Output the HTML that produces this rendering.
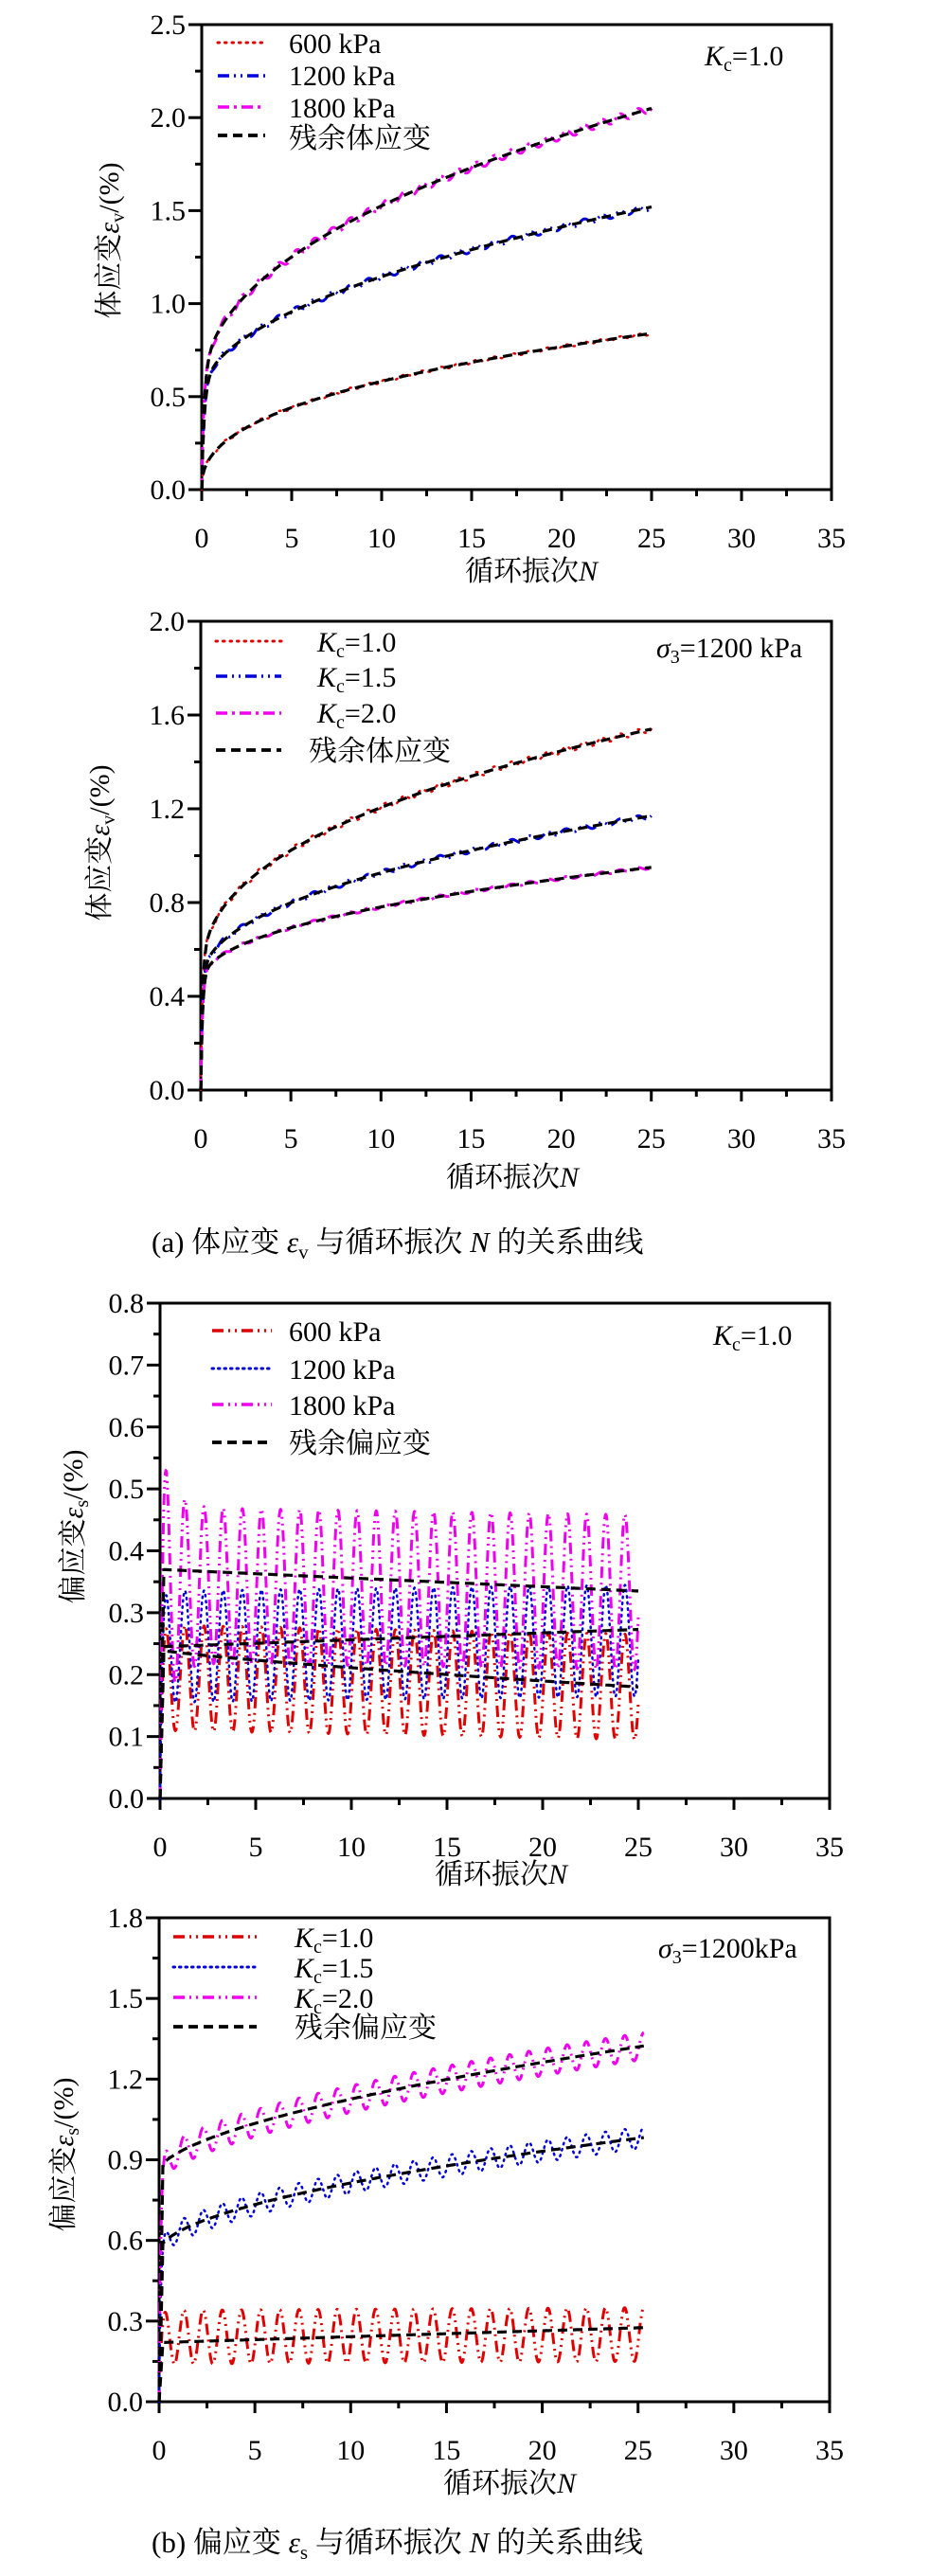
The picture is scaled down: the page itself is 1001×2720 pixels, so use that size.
<!DOCTYPE html>
<html><head><meta charset="utf-8">
<style>
html,body{margin:0;padding:0;background:#fff;}
svg{display:block;}
text{font-family:"Liberation Serif","Noto Serif CJK SC","Noto Sans CJK SC",serif;fill:#000;}
</style></head>
<body>
<svg id="s" width="1001" height="2720" viewBox="0 0 1001 2720" xmlns="http://www.w3.org/2000/svg">
<rect width="1001" height="2720" fill="#fff"/>
<g id="g"></g>
<!-- chart 1 texts -->
<text x="305" y="56" font-size="30">600 kPa</text>
<text x="305" y="90" font-size="30">1200 kPa</text>
<text x="305" y="124" font-size="30">1800 kPa</text>
<text x="305" y="156" font-size="30">残余体应变</text>
<text x="744" y="69" font-size="30"><tspan font-style="italic">K</tspan><tspan font-size="20" dy="6">c</tspan><tspan dy="-6">=1.0</tspan></text>
<text x="561" y="613" font-size="30" text-anchor="middle">循环振次<tspan font-style="italic">N</tspan></text>
<text transform="translate(125,254) rotate(-90)" font-size="30" text-anchor="middle">体应变<tspan font-style="italic">ε</tspan><tspan font-size="20" dy="6">v</tspan><tspan dy="-6">/(%)</tspan></text>
<!-- chart 2 texts -->
<text x="335" y="688" font-size="30"><tspan font-style="italic">K</tspan><tspan font-size="20" dy="6">c</tspan><tspan dy="-6">=1.0</tspan></text>
<text x="335" y="725" font-size="30"><tspan font-style="italic">K</tspan><tspan font-size="20" dy="6">c</tspan><tspan dy="-6">=1.5</tspan></text>
<text x="335" y="763" font-size="30"><tspan font-style="italic">K</tspan><tspan font-size="20" dy="6">c</tspan><tspan dy="-6">=2.0</tspan></text>
<text x="326" y="803" font-size="30">残余体应变</text>
<text x="693" y="694" font-size="30"><tspan font-style="italic">σ</tspan><tspan font-size="20" dy="6">3</tspan><tspan dy="-6">=1200 kPa</tspan></text>
<text x="541" y="1253" font-size="30" text-anchor="middle">循环振次<tspan font-style="italic">N</tspan></text>
<text transform="translate(115,890) rotate(-90)" font-size="30" text-anchor="middle">体应变<tspan font-style="italic">ε</tspan><tspan font-size="20" dy="6">v</tspan><tspan dy="-6">/(%)</tspan></text>
<text x="160" y="1322" font-size="31">(a)  体应变 <tspan font-style="italic">ε</tspan><tspan font-size="21" dy="7">v</tspan><tspan dy="-7"> 与循环振次 </tspan><tspan font-style="italic">N</tspan> 的关系曲线</text>
<!-- chart 3 texts -->
<text x="305" y="1416" font-size="30">600 kPa</text>
<text x="305" y="1456" font-size="30">1200 kPa</text>
<text x="305" y="1494" font-size="30">1800 kPa</text>
<text x="305" y="1534" font-size="30">残余偏应变</text>
<text x="753" y="1420" font-size="30"><tspan font-style="italic">K</tspan><tspan font-size="20" dy="6">c</tspan><tspan dy="-6">=1.0</tspan></text>
<text x="529" y="1989" font-size="30" text-anchor="middle">循环振次<tspan font-style="italic">N</tspan></text>
<text transform="translate(87,1612) rotate(-90)" font-size="30" text-anchor="middle">偏应变<tspan font-style="italic">ε</tspan><tspan font-size="20" dy="6">s</tspan><tspan dy="-6">/(%)</tspan></text>
<!-- chart 4 texts -->
<text x="311" y="2056" font-size="30"><tspan font-style="italic">K</tspan><tspan font-size="20" dy="6">c</tspan><tspan dy="-6">=1.0</tspan></text>
<text x="311" y="2088" font-size="30"><tspan font-style="italic">K</tspan><tspan font-size="20" dy="6">c</tspan><tspan dy="-6">=1.5</tspan></text>
<text x="311" y="2120" font-size="30"><tspan font-style="italic">K</tspan><tspan font-size="20" dy="6">c</tspan><tspan dy="-6">=2.0</tspan></text>
<text x="311" y="2151" font-size="30">残余偏应变</text>
<text x="695" y="2067" font-size="30"><tspan font-style="italic">σ</tspan><tspan font-size="20" dy="6">3</tspan><tspan dy="-6">=1200kPa</tspan></text>
<text x="538" y="2632" font-size="30" text-anchor="middle">循环振次<tspan font-style="italic">N</tspan></text>
<text transform="translate(77,2275) rotate(-90)" font-size="30" text-anchor="middle">偏应变<tspan font-style="italic">ε</tspan><tspan font-size="20" dy="6">s</tspan><tspan dy="-6">/(%)</tspan></text>
<text x="160" y="2695" font-size="31">(b)  偏应变 <tspan font-style="italic">ε</tspan><tspan font-size="21" dy="7">s</tspan><tspan dy="-7"> 与循环振次 </tspan><tspan font-style="italic">N</tspan> 的关系曲线</text>
</svg>
<script>
var NS="http://www.w3.org/2000/svg",G=document.getElementById('g');
function el(t,a,txt){var e=document.createElementNS(NS,t);for(var k in a)e.setAttribute(k,a[k]);if(txt!=null)e.textContent=txt;G.appendChild(e);return e;}
var ST={dot:{d:"1.5 6",w:2.5,cap:"round"},dd:{d:"12 5 2 5 2 5",w:3,cap:"butt"},da:{d:"12 5 3 5",w:3,cap:"butt"},dash:{d:"10 6",w:3.2,cap:"butt"},ddot:{d:"1.5 5",w:2.5,cap:"round"}};
var COL={r:"#e00000",b:"#0000dd",m:"#ee00ee",k:"#000"};
function chart(c){
  var X=function(n){return c.x0+(c.x1-c.x0)*n/35;},Y=function(v){return c.yb-(c.yb-c.yt)*v/c.ymax;};
  c.X=X;c.Y=Y;
  el('rect',{x:c.x0,y:c.yt,width:c.x1-c.x0,height:c.yb-c.yt,fill:'none',stroke:'#000','stroke-width':3});
  for(var n=0;n<=35.01;n+=2.5){var maj=Math.abs(n/5-Math.round(n/5))<1e-6;
    el('line',{x1:X(n),x2:X(n),y1:c.yb,y2:c.yb+(maj?12:7),stroke:'#000','stroke-width':3});
    if(maj)el('text',{x:X(n),y:c.yb+61,'font-size':30,'text-anchor':'middle'},String(Math.round(n)));}
  var ns=Math.round(c.ymax/c.minor);
  for(var i=0;i<=ns;i++){var v=i*c.minor,maj=(i%2==0);
    el('line',{x1:c.x0-(maj?14:7),x2:c.x0,y1:Y(v),y2:Y(v),stroke:'#000','stroke-width':3});
    if(maj)el('text',{x:c.x0-17,y:Y(v)+10,'font-size':30,'text-anchor':'end'},v.toFixed(1));}
  return c;}
function series(c,f,col,st,n0,n1,step){var d="",s=ST[st];
  for(var n=n0;n<=n1+1e-9;n+=step){var v=f(n);d+=(d?"L":"M")+c.X(n).toFixed(1)+","+c.Y(v).toFixed(1);}
  el('path',{d:d,fill:'none',stroke:COL[col],'stroke-width':s.w,'stroke-dasharray':s.d,'stroke-linecap':s.cap,'stroke-linejoin':'round'});}
function leg(x1,x2,y,col,st){var s=ST[st];el('line',{x1:x1,x2:x2,y1:y,y2:y,stroke:COL[col],'stroke-width':s.w+0.5,'stroke-dasharray':s.d,'stroke-linecap':s.cap});}
var P=Math.PI*2;
// Chart 1
var c1=chart({x0:213,x1:878,yb:517,yt:26,ymax:2.5,minor:0.25});
var f600=function(n){return 0.84*Math.pow(n/25,0.4);};
var f1200=function(n){return 0.5*(1-Math.exp(-n/0.15))+1.02*Math.pow(n/25,0.5);};
var f1800=function(n){return 0.5*(1-Math.exp(-n/0.15))+1.55*Math.pow(n/25,0.45);};
series(c1,function(n){return f600(n)+0.008*Math.sin(P*n);},'r','dot',0,25,0.05);
series(c1,function(n){return f1200(n)+0.015*Math.sin(P*n);},'b','dd',0,25,0.05);
series(c1,function(n){return f1800(n)+0.02*Math.sin(P*n);},'m','da',0,25,0.05);
[f600,f1200,f1800].forEach(function(f){series(c1,f,'k','dash',0,25,0.05);});
leg(230,280,45,'r','dot');leg(230,280,80,'b','dd');leg(230,280,113,'m','da');leg(230,280,143,'k','dash');
// Chart 2
var c2=chart({x0:212,x1:878,yb:1151,yt:656,ymax:2.0,minor:0.2});
var g1=function(n){return 0.45*(1-Math.exp(-n/0.1))+1.09*Math.pow(n/25,0.4);};
var g2=function(n){return 0.45*(1-Math.exp(-n/0.1))+0.72*Math.pow(n/25,0.45);};
var g3=function(n){return 0.45*(1-Math.exp(-n/0.1))+0.5*Math.pow(n/25,0.45);};
series(c2,function(n){return g1(n)+0.012*Math.sin(P*n);},'r','dot',0,25,0.05);
series(c2,function(n){return g2(n)+0.01*Math.sin(P*n);},'b','dd',0,25,0.05);
series(c2,function(n){return g3(n)+0.006*Math.sin(P*n);},'m','da',0,25,0.05);
[g1,g2,g3].forEach(function(f){series(c2,f,'k','dash',0,25,0.05);});
leg(228,297,677,'r','dot');leg(228,297,714,'b','dd');leg(228,297,753,'m','da');leg(228,297,792,'k','dash');
// Chart 3
var c3=chart({x0:169,x1:876,yb:1899,yt:1376,ymax:0.8,minor:0.05});
function osc(mid,amp){return function(n){var r=1-Math.exp(-n/0.08);return r*(mid(n)+amp(n)*Math.cos(P*(n-0.3)));};}
series(c3,osc(function(n){return 0.195-0.015*n/25;},function(n){return 0.085;}),'r','dd',0,25,0.02);
series(c3,osc(function(n){return 0.245+0.01*n/25;},function(n){return 0.09;}),'b','ddot',0,25,0.02);
series(c3,osc(function(n){return 0.345-0.012*n/25;},function(n){return 0.125+0.12*Math.exp(-n/0.6);}),'m','dd',0,25,0.02);
series(c3,function(n){return n<0.2?n/0.2*0.37:0.37-0.035*(n/25);},'k','dash',0,25,0.1);
series(c3,function(n){return n<0.2?n/0.2*0.245:0.245+0.028*(n/25);},'k','dash',0,25,0.1);
series(c3,function(n){return n<0.2?n/0.2*0.24:0.24-0.06*Math.pow(n/25,0.8);},'k','dash',0,25,0.1);
leg(224,287,1405,'r','dd');leg(224,287,1445,'b','ddot');leg(224,287,1483,'m','dd');leg(224,287,1523,'k','dash');
// Chart 4
var c4=chart({x0:168,x1:876,yb:2536,yt:2025,ymax:1.8,minor:0.15});
series(c4,osc(function(n){return 0.24+0.01*n/25;},function(n){return 0.1;}),'r','dd',0,25.3,0.02);
var h2=function(n){return 0.56+0.42*Math.pow(n/25,0.55);},h3=function(n){return 0.86+0.46*Math.pow(n/25,0.6);};
series(c4,osc(h2,function(n){return 0.04;}),'b','ddot',0,25.3,0.02);
series(c4,osc(h3,function(n){return 0.05;}),'m','dd',0,25.3,0.02);
series(c4,function(n){return n<0.2?n/0.2*0.85:h3(n);},'k','dash',0,25.3,0.1);
series(c4,function(n){return n<0.2?n/0.2*0.55:h2(n);},'k','dash',0,25.3,0.1);
series(c4,function(n){return n<0.2?n/0.2*0.22:0.22+0.055*(n/25);},'k','dash',0,25.3,0.1);
leg(183,271,2045,'r','dd');leg(183,271,2077,'b','ddot');leg(183,271,2109,'m','dd');leg(183,271,2140,'k','dash');
</script>
</body></html>
